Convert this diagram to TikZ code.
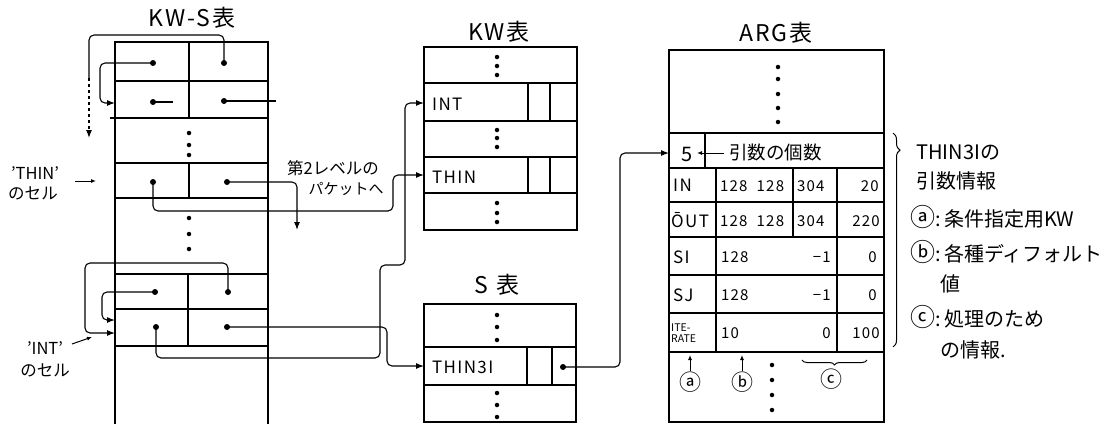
\documentclass[tikz,border=0pt]{standalone}
\usepackage{fontspec}
\setmainfont{Noto Sans CJK JP}
\usetikzlibrary{arrows.meta,decorations.pathreplacing}
\newcommand{\mycircl}[1]{{\fontsize{25}{22}\selectfont #1}}
\begin{document}
\begin{tikzpicture}[x=1pt,y=-1pt,
 tbl/.style={line width=2pt},
 cell/.style={line width=1.3pt},
 ptr/.style={line width=1.1pt, rounded corners=5pt},
 arr/.style={-{Latex[length=8pt,width=6pt]}},
 dotc/.style={circle, fill, inner sep=0pt, minimum size=6pt},
 sdot/.style={circle, fill, inner sep=0pt, minimum size=4.5pt},
 ttl/.style={font=\fontsize{23}{24}\selectfont\addfontfeature{LetterSpace=8}, inner sep=0pt},
 txt/.style={font=\fontsize{17}{18}\selectfont\addfontfeature{LetterSpace=8}, inner sep=0pt},
 num/.style={font=\fontsize{15}{16}\selectfont\addfontfeature{LetterSpace=8}, inner sep=0pt},
 note/.style={font=\fontsize{20}{22}\selectfont, inner sep=0pt, anchor=west},
 lab/.style={font=\fontsize{16.5}{17}\selectfont, inner sep=0pt},
 circ/.style={font=\fontsize{22}{22}\selectfont, inner sep=0pt},
 smallarr/.style={line width=1pt,-{Latex[length=5pt,width=4pt]}},
]
\useasboundingbox (0,0) rectangle (1102,424);

% ---------- KW-S table ----------
\node[ttl] (tkws) at (192,18) {KW-S表};
\draw[tbl] (115,424) -- (115,42) -- (268,42) -- (268,424);
\foreach \y in {81,163,198,274,309,346} \draw[cell] (115,\y) -- (268,\y);
\draw[cell] (110,118) -- (268,118);
\draw[cell] (189,42) -- (189,118);
\draw[cell] (189,163) -- (189,198);
\draw[cell] (188,274) -- (188,346);
\foreach \y in {133,145,155,218,234,249} \node[sdot] at (189,\y) {};

\node[dotc] (a1l) at (153,63) {};
\node[dotc] (a1r) at (224,63) {};
\node[dotc] (a2l) at (153,102) {};
\node[dotc] (a2r) at (224,101) {};
\node[dotc] (tl) at (153,182) {};
\node[dotc] (tr) at (227,182) {};
\node[dotc] (b1l) at (155,292) {};
\node[dotc] (b1r) at (228,292) {};
\node[dotc] (b2l) at (156,327) {};
\node[dotc] (b2r) at (227,327) {};

\coordinate (row2in) at (115,103);
\coordinate (dashtop) at (89,78);
\coordinate (dashend) at (89,138);
\coordinate (a2lend) at (173,102);
\coordinate (a2rend) at (276,101);
\coordinate (pkt) at (297,230);
\coordinate (inA) at (115,320);
\coordinate (inB) at (115,333);

\draw[ptr] (a1r.center) -- (224,35) -- (89,35) -- (dashtop);
\draw[line width=1.1pt,dashed,arr] (dashtop) -- (dashend);
\draw[ptr,arr] (a1l.center) -- (100,63) -- (100,103) -- (row2in);
\draw[line width=1.1pt] (a2l.center) -- (a2lend);
\draw[line width=1.1pt] (a2r.center) -- (a2rend);
\draw[ptr,arr] (tr.center) -- (297,182) -- (pkt);
\draw[ptr,arr] (b1r.center) -- (228,263) -- (85,263) -- (85,333) -- (inB);
\draw[ptr,arr] (b1l.center) -- (102,292) -- (102,320) -- (inA);

% ---------- KW table ----------
\node[ttl] (tkw) at (499,32) {KW表};
\draw[tbl] (424,47) rectangle (577,230);
\foreach \y in {83,121,157,193} \draw[cell] (424,\y) -- (577,\y);
\draw[cell] (528,83) -- (528,121) (550,83) -- (550,121);
\draw[cell] (528,157) -- (528,193) (550,157) -- (550,193);
\foreach \y in {57,66,75,130,138,147,203,213,222} \node[sdot] at (497,\y) {};
\node[txt,anchor=west] (kwint) at (432,104) {INT};
\node[txt,anchor=west] (kwthin) at (432,177) {THIN};
\coordinate (kwintin) at (424,103);
\coordinate (kwthinin) at (424,175);

% ---------- S table ----------
\node[ttl] (ts) at (497,285) {S\,\,表};
\draw[tbl] (424,304) rectangle (576,422);
\draw[cell] (424,347) -- (576,347) (424,385) -- (576,385);
\draw[cell] (527,347) -- (527,385) (552,347) -- (552,385);
\foreach \y in {315,327,340,393,405,417} \node[sdot] at (497,\y) {};
\node[txt,anchor=west] (sthin) at (432,367) {THIN3I};
\node[dotc] (sd) at (563,367) {};
\coordinate (sthinin) at (424,366);

% ---------- connectors to KW / S ----------
\draw[ptr,arr] (tl.center) -- (153,211) -- (393,211) -- (393,175) -- (kwthinin);
\draw[ptr,arr] (b2l.center) -- (156,358) -- (380,358) -- (380,265) -- (405,265) -- (405,103) -- (kwintin);
\draw[ptr,arr] (b2r.center) -- (387,327) -- (387,366) -- (sthinin);

\node[font=\fontsize{16.5}{17}\selectfont, inner sep=0pt] (l2a) at (333,168) {第2レベルの};
\node[font=\fontsize{15}{16}\selectfont, inner sep=0pt] (l2b) at (346,189) {パケットへ};

% ---------- ARG table ----------
\node[ttl] (targ) at (776,33) {ARG表};
\draw[tbl] (669,50) rectangle (884,422);
\foreach \y in {133,168,202,237,275,313,352} \draw[cell] (669,\y) -- (884,\y);
\draw[cell] (705,133) -- (705,168);
\draw[cell] (716,168) -- (716,352);
\draw[cell] (793,168) -- (793,237);
\draw[cell] (837,168) -- (837,352);
\foreach \y in {67,79,94,108,122} \node[sdot] at (778,\y) {};

\coordinate (argin) at (669,153);
\draw[ptr,arr] (sd.center) -- (620,367) -- (620,153) -- (argin);

\node[font=\fontsize{20}{20}\selectfont, inner sep=0pt] (five) at (687,154) {5};
\coordinate (cntS) at (724,153);
\coordinate (cntE) at (697,153);
\draw[smallarr] (cntS) -- (cntE);
\node[font=\fontsize{18.5}{19}\selectfont, inner sep=0pt, anchor=west] (cnt) at (729,152) {引数の個数};

\node[txt,anchor=west] (rIN) at (673,185) {IN};
\node[txt,anchor=west] (rOUT) at (671,220) {ŌUT};
\node[txt,anchor=west] (rSI) at (673,257) {SI};
\node[txt,anchor=west] (rSJ) at (673,295) {SJ};
\node[font=\fontsize{10.5}{11}\selectfont, inner sep=0pt, align=left, anchor=west] (rIT) at (671,333) {ITE-\\RATE};

\node[num,anchor=west] at (720,186) {128\ \ 128};
\node[num,anchor=west] at (797,186) {304};
\node[num,anchor=east] at (879,186) {20};
\node[num,anchor=west] at (720,221) {128\ \ 128};
\node[num,anchor=west] at (797,221) {304};
\node[num,anchor=east] at (880,221) {220};
\node[num,anchor=west] at (721,257) {128};
\node[num,anchor=east] at (831,257) {−1};
\node[num,anchor=east] at (877,257) {\itshape 0};
\node[num,anchor=west] at (721,295) {128};
\node[num,anchor=east] at (831,295) {−1};
\node[num,anchor=east] at (877,295) {\itshape 0};
\node[num,anchor=west] at (721,333) {10};
\node[num,anchor=east] at (831,333) {\itshape 0};
\node[num,anchor=east] at (880,333) {100};

\node[circ] (ca) at (690,382) {ⓐ};
\node[circ] (cb) at (742,382) {ⓑ};
\coordinate (uaT) at (690,355);
\coordinate (ubT) at (742,355);
\draw[smallarr] (ca.north) ++(0,-1) -- (uaT);
\draw[smallarr] (cb.north) ++(0,-1) -- (ubT);
\foreach \y in {365,380,395,410} \node[sdot] at (772,\y) {};
\coordinate (brL) at (802,360);
\coordinate (brR) at (867,360);
\draw[line width=1pt, decorate, decoration={brace, amplitude=5pt, mirror}] (brL) -- (brR);
\node[circ] (cc) at (831,379) {ⓒ};

% ---------- right annotation ----------
\coordinate (bT) at (893,133);
\coordinate (bB) at (893,347);
\draw[line width=1pt, decorate, decoration={brace, amplitude=7pt, aspect=0.08}] (bT) -- (bB);
\node[note] (n1) at (916,152) {THIN3Iの};
\node[note] (n2) at (916,181) {引数情報};
\node[note] (n3) at (910,217) {\mycircl{ⓐ}:\,条件指定用KW};
\node[note] (n4) at (910,252) {\mycircl{ⓑ}:\,各種ディフォルト};
\node[note] (n5) at (940,284) {値};
\node[note] (n6) at (910,317) {\mycircl{ⓒ}:\,処理のため};
\node[note] (n7) at (940,350) {の情報.};

% ---------- left labels ----------
\node[lab] (lthin) at (35,173) {'THIN'};
\node[lab] (lthin2) at (33,193) {のセル};
\coordinate (ltA) at (75,181);
\coordinate (ltB) at (96,181);
\draw[smallarr] (ltA) -- (ltB);
\node[lab] (lint) at (45,348) {'INT'};
\node[lab] (lint2) at (45,370) {のセル};
\coordinate (liA) at (72,344);
\coordinate (liB) at (92,337);
\draw[smallarr] (liA) -- (liB);
\end{tikzpicture}
\end{document}
